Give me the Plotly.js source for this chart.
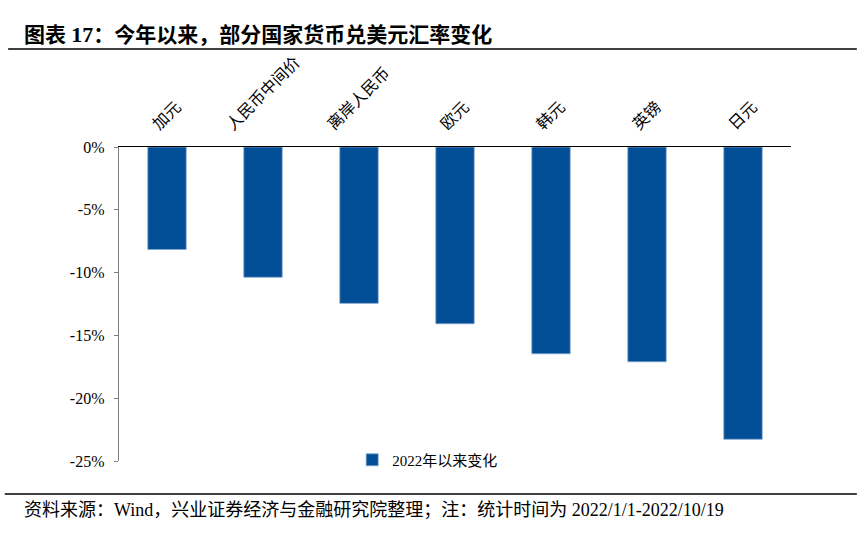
<!DOCTYPE html>
<html>
<head>
<meta charset="utf-8">
<script src="https://cdn.plot.ly/plotly-3.0.1.min.js"></script>
<style>html,body{margin:0;padding:0;background:#fff;}#chart{width:865px;height:533px;}</style>
</head>
<body>
<div id="chart"></div>
<script>
const categories = ["加元", "人民币中间价", "离岸人民币", "欧元", "韩元", "英镑", "日元"];
const changeValues = [-8.16, -10.37, -12.45, -14.07, -16.46, -17.1, -23.27];
const seriesName = "2022年以来变化";
const yTickVals = [0, -5, -10, -15, -20, -25];
const yTickText = ["0%", "-5%", "-10%", "-15%", "-20%", "-25%"];
const titleText = "图表 <span style='font-size:22px'>17</span>：今年以来，部分国家货币兑美元汇率变化";
const sourceText = "资料来源：Wind，兴业证券经济与金融研究院整理；注：统计时间为 2022/1/1-2022/10/19";

const serif = "'Times New Roman', 'Liberation Serif', 'DejaVu Serif', 'Noto Sans CJK SC', serif";
const cjk = "'Liberation Serif', 'Noto Sans CJK SC', sans-serif";

const trace = {
  type: "bar",
  x: categories,
  y: changeValues,
  name: seriesName,
  width: 0.4,
  marker: {color: "#024E96", line: {color: "#7FA3CC", width: 0.8}},
  showlegend: true,
  hoverinfo: "none"
};

// rotated category labels centred over each bar (Excel style)
const categoryLabels = categories.map(c => ({
  xref: "x", yref: "paper", x: c, y: 1.035,
  xanchor: "center", yanchor: "bottom",
  textangle: -45, showarrow: false, text: c,
  font: {family: cjk, size: 16, color: "#000"}
}));

const layout = {
  width: 865, height: 533,
  margin: {l: 119, r: 74, t: 147, b: 72},
  paper_bgcolor: "#fff", plot_bgcolor: "#fff",
  font: {family: serif, color: "#000", size: 15},
  bargap: 0.6,
  xaxis: {
    side: "top",
    type: "category",
    showticklabels: false,
    showline: true, linecolor: "#000", linewidth: 1.3,
    ticks: "", showgrid: false, zeroline: false,
    fixedrange: true
  },
  yaxis: {
    range: [-25, 0],
    tickvals: yTickVals, ticktext: yTickText,
    showline: true, linecolor: "#808080", linewidth: 1.3,
    ticks: "outside", ticklen: 4, tickcolor: "#808080",
    ticklabelstandoff: 6,
    showgrid: false, zeroline: false,
    tickfont: {family: serif, size: 16, color: "#000"},
    fixedrange: true
  },
  legend: {
    orientation: "h",
    x: 0.347, y: 0.003, xanchor: "left", yanchor: "middle",
    bgcolor: "rgba(0,0,0,0)",
    font: {family: cjk, size: 15, color: "#000"},
    itemwidth: 30
  },
  shapes: [
    {type: "line", xref: "paper", yref: "paper", x0: -0.165, x1: 1.098, y0: 1.312, y1: 1.312, line: {color: "#000", width: 1.5}},
    {type: "line", xref: "paper", yref: "paper", x0: -0.170, x1: 1.098, y0: -0.105, y1: -0.105, line: {color: "#000", width: 1.5}}
  ],
  annotations: [
    {xref: "paper", yref: "paper", x: -0.1443, y: 1.357, xanchor: "left", yanchor: "middle", showarrow: false,
     text: "<b>" + titleText + "</b>", font: {family: cjk, size: 21, color: "#000"}},
    {xref: "paper", yref: "paper", x: -0.1443, y: -0.156, xanchor: "left", yanchor: "middle", showarrow: false,
     text: sourceText, font: {family: cjk, size: 18, color: "#000"}}
  ].concat(categoryLabels)
};

Plotly.newPlot("chart", [trace], layout, {displayModeBar: false, staticPlot: true});
</script>
</body>
</html>
